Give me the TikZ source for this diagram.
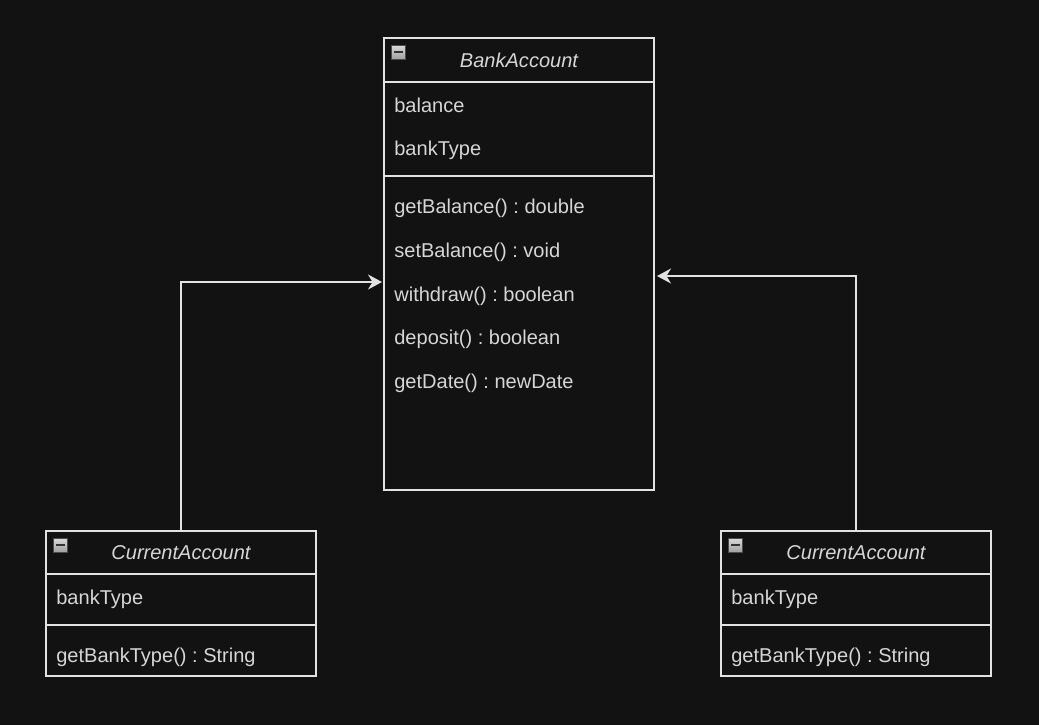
\documentclass[tikz,border=0pt]{standalone}
\usepackage{fontspec}
\setmainfont{Liberation Sans}
\frenchspacing
\usetikzlibrary{positioning,arrows.meta}
\definecolor{bgdark}{HTML}{121212}
\definecolor{linegray}{HTML}{E2E2E2}
\definecolor{textgray}{HTML}{D6D6D6}
\tikzset{
	compart/.style={draw=linegray, line width=0.9pt, rectangle, minimum width=5.4cm, inner sep=0pt, outer sep=0pt},
	classtitle/.style={text=textgray, font=\fontsize{11.4}{13.7}\selectfont\itshape, anchor=mid, yshift=-0.06cm},
	rowtext/.style={text=textgray, font=\fontsize{11.4}{13.7}\selectfont, anchor=mid west, inner sep=0pt, yshift=-0.06cm},
	collapse/.style={draw=black!70, line width=0.4pt, minimum size=0.28cm, inner sep=0pt, top color=gray!30, bottom color=gray!75, anchor=north west,
		path picture={\draw[black!80, line width=1.2pt] ([xshift=0.05cm]path picture bounding box.west) -- ([xshift=-0.05cm]path picture bounding box.east);}},
	inherit/.style={draw=linegray, line width=0.9pt, -{Stealth[length=0.28cm, width=0.3cm, inset=0.09cm]}}
}
\begin{document}
\begin{tikzpicture}[x=0.02cm, y=-0.02cm]
	\fill[bgdark] (0,0) rectangle (1039,725);
	\useasboundingbox (0,0) rectangle (1039,725);

	% BankAccount class
	\node[compart, minimum height=0.88cm, anchor=north west] (bankhead) at (384,38) {};
	\node[compart, minimum height=1.88cm, below=0pt of bankhead] (bankattr) {};
	\node[compart, minimum height=6.28cm, below=0pt of bankattr] (bankmeth) {};
	\node[collapse] (bankicon) at (391,45) {};
	\node[classtitle] (banktitle) at (519,60) {BankAccount};
	\node[rowtext] (balance) at (394,105) {balance};
	\node[rowtext] (banktype) at (394,148) {bankType};
	\node[rowtext] (getbal) at (394,206) {getBalance() : double};
	\node[rowtext] (setbal) at (394,250) {setBalance() : void};
	\node[rowtext] (withdraw) at (394,294) {withdraw() : boolean};
	\node[rowtext] (deposit) at (394,337) {deposit() : boolean};
	\node[rowtext] (getdate) at (394,381) {getDate() : newDate};

	% left CurrentAccount class
	\node[compart, minimum height=0.86cm, anchor=north west] (curlhead) at (46,531) {};
	\node[compart, minimum height=1.02cm, below=0pt of curlhead] (curlattr) {};
	\node[compart, minimum height=1.02cm, below=0pt of curlattr] (curlmeth) {};
	\node[collapse] (curlicon) at (53,538) {};
	\node[classtitle] (curltitle) at (181,552) {CurrentAccount};
	\node[rowtext] (curltype) at (56,597) {bankType};
	\node[rowtext] (curlget) at (56,655) {getBankType() : String};

	% right CurrentAccount class
	\node[compart, minimum height=0.86cm, anchor=north west] (currhead) at (721,531) {};
	\node[compart, minimum height=1.02cm, below=0pt of currhead] (currattr) {};
	\node[compart, minimum height=1.02cm, below=0pt of currattr] (currmeth) {};
	\node[collapse] (curricon) at (728,538) {};
	\node[classtitle] (currtitle) at (856,552) {CurrentAccount};
	\node[rowtext] (currtype) at (731,597) {bankType};
	\node[rowtext] (currget) at (731,655) {getBankType() : String};

	% inheritance arrows
	\coordinate (leftin) at (382,282);
	\coordinate (rightin) at (657,276);
	\draw[inherit] (curlhead.north) |- (leftin);
	\draw[inherit] (currhead.north) |- (rightin);
\end{tikzpicture}
\end{document}
